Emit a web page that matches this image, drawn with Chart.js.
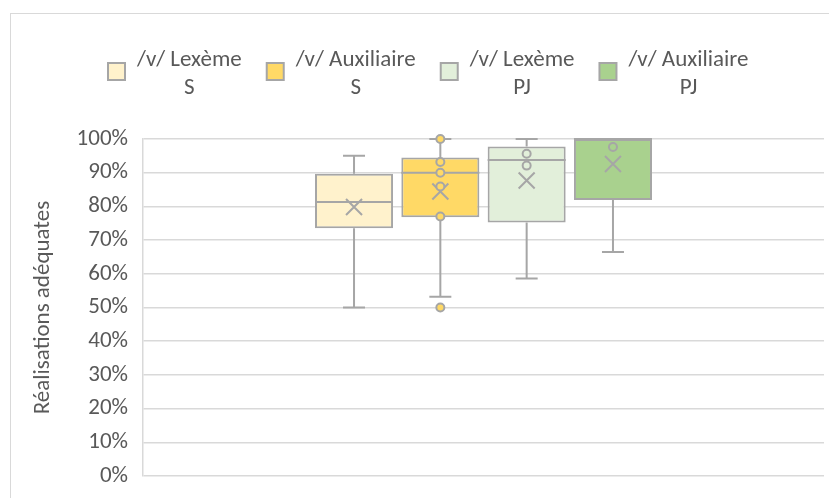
<!DOCTYPE html>
<html>
<head>
<meta charset="utf-8">
<script src="https://cdn.jsdelivr.net/npm/chart.js@4"></script>
<style>
  body { margin: 0; background: #fff; }
  #wrap { position: relative; width: 829px; height: 498px; }
  #frame { position: absolute; left: 10px; top: 13px; right: 0; bottom: 0; border-left: 1px solid #d9d9d9; border-top: 1px solid #d9d9d9; }
  canvas { position: absolute; left: 0; top: 0; }
</style>
</head>
<body>
<div id="wrap">
  <div id="frame"></div>
  <canvas id="boxChart" width="829" height="498"></canvas>
</div>
<script>
// series names (two lines in the legend)
const seriesNames = ['/v/ Lexème', '/v/ Auxiliaire', '/v/ Lexème', '/v/ Auxiliaire'];
const seriesGroups = ['S', 'S', 'PJ', 'PJ'];
const seriesColors = ['#FFF2CC', '#FFD966', '#E2EFDA', '#A9D18E'];

// box plot values, in %
const minVals = [50, 53.2, 58.6, 66.5];
const q1Vals = [73.5, 76.8, 75.2, 81.9];
const medianVals = [81.3, 90, 93.8, 100];
const q3Vals = [89.7, 94.5, 97.8, 100];
const maxVals = [95, 100, 100, 100];
const meanVals = [79.8, 84.4, 87.7, 92.6];
const pointVals = [[], [100, 93.2, 90, 85.9, 77, 50], [95.6, 92.1], [97.6]];

const yTicks = [0, 10, 20, 30, 40, 50, 60, 70, 80, 90, 100];

const FONT = 'Carlito, Lato, "Open Sans", sans-serif';
const FONT_SIZE = 23;
const TEXT = '#595959';
const GRAY = '#A6A6A6';

Chart.defaults.font.family = FONT;
Chart.defaults.color = TEXT;

// whiskers, medians, means and points drawn on top of the floating bars
const boxExtras = {
    id: 'boxExtras',
    afterDatasetsDraw(chart) {
        const ctx = chart.ctx;
        const y = chart.scales.y;
        ctx.save();
        ctx.strokeStyle = GRAY;
        ctx.lineWidth = 2;
        chart.data.datasets.forEach((ds, i) => {
            const bar = chart.getDatasetMeta(i).data[0];
            const cx = bar.x;
            const half = bar.width / 2;
            const cap = 11;

            // median
            ctx.beginPath();
            ctx.moveTo(cx - half, y.getPixelForValue(medianVals[i]));
            ctx.lineTo(cx + half, y.getPixelForValue(medianVals[i]));
            ctx.stroke();

            // upper whisker
            if (maxVals[i] > q3Vals[i]) {
                ctx.beginPath();
                ctx.moveTo(cx, y.getPixelForValue(q3Vals[i]));
                ctx.lineTo(cx, y.getPixelForValue(maxVals[i]));
                ctx.moveTo(cx - cap, y.getPixelForValue(maxVals[i]));
                ctx.lineTo(cx + cap, y.getPixelForValue(maxVals[i]));
                ctx.stroke();
            }
            // lower whisker
            if (minVals[i] < q1Vals[i]) {
                ctx.beginPath();
                ctx.moveTo(cx, y.getPixelForValue(q1Vals[i]));
                ctx.lineTo(cx, y.getPixelForValue(minVals[i]));
                ctx.moveTo(cx - cap, y.getPixelForValue(minVals[i]));
                ctx.lineTo(cx + cap, y.getPixelForValue(minVals[i]));
                ctx.stroke();
            }

            // mean (x marker)
            const my = y.getPixelForValue(meanVals[i]);
            const s = 8;
            ctx.beginPath();
            ctx.moveTo(cx - s, my - s); ctx.lineTo(cx + s, my + s);
            ctx.moveTo(cx + s, my - s); ctx.lineTo(cx - s, my + s);
            ctx.stroke();

            // data points
            pointVals[i].forEach(v => {
                ctx.beginPath();
                ctx.arc(cx, y.getPixelForValue(v), 4, 0, Math.PI * 2);
                ctx.fillStyle = seriesColors[i];
                ctx.fill();
                ctx.stroke();
            });
        });
        ctx.restore();
    }
};

// legend with the series name over its group, centred
const twoLineLegend = {
    id: 'twoLineLegend',
    afterDraw(chart) {
        const ctx = chart.ctx;
        ctx.save();
        ctx.font = FONT_SIZE + 'px ' + FONT;
        ctx.textBaseline = 'middle';
        ctx.textAlign = 'center';
        let x = 107;
        seriesNames.forEach((name, i) => {
            const w = Math.max(ctx.measureText(name).width, ctx.measureText(seriesGroups[i]).width);
            ctx.fillStyle = seriesColors[i];
            ctx.strokeStyle = GRAY;
            ctx.lineWidth = 2;
            ctx.fillRect(x + 1, 63, 17, 17);
            ctx.strokeRect(x + 1, 63, 17, 17);
            ctx.fillStyle = TEXT;
            const tx = x + 30 + w / 2;
            ctx.fillText(name, tx, 60);
            ctx.fillText(seriesGroups[i], tx, 88);
            x += 30 + w + 24;
        });
        ctx.restore();
    }
};

const datasets = seriesNames.map((name, i) => ({
    label: name + ' ' + seriesGroups[i],
    data: [[q1Vals[i], q3Vals[i]]],
    backgroundColor: seriesColors[i],
    borderColor: GRAY,
    borderWidth: 2,
    borderSkipped: false,
    categoryPercentage: 0.507,
    barPercentage: 0.904
}));

new Chart(document.getElementById('boxChart').getContext('2d'), {
    type: 'bar',
    data: { labels: [''], datasets: datasets },
    options: {
        responsive: false,
        animation: false,
        layout: { padding: { top: 139, bottom: 22, right: 5, left: 0 } },
        plugins: {
            legend: { display: false },
            tooltip: { enabled: false }
        },
        scales: {
            x: { display: false },
            y: {
                min: 0,
                max: 100,
                afterBuildTicks: (scale) => { scale.ticks = yTicks.map(v => ({ value: v })); },
                afterFit: (scale) => { scale.width = 143; },
                ticks: {
                    padding: 2,
                    font: { size: FONT_SIZE },
                    color: TEXT,
                    callback: (v) => v + '%'
                },
                grid: { color: '#D9D9D9', lineWidth: 1.5, drawTicks: true, tickLength: 13, tickColor: 'rgba(0,0,0,0)' },
                border: { display: true, color: '#D9D9D9', width: 1.5 },
                title: {
                    display: true,
                    text: 'Réalisations adéquates',
                    color: TEXT,
                    font: { size: FONT_SIZE },
                    padding: { top: 29, bottom: 0 }
                }
            }
        }
    },
    plugins: [boxExtras, twoLineLegend]
});
</script>
</body>
</html>
